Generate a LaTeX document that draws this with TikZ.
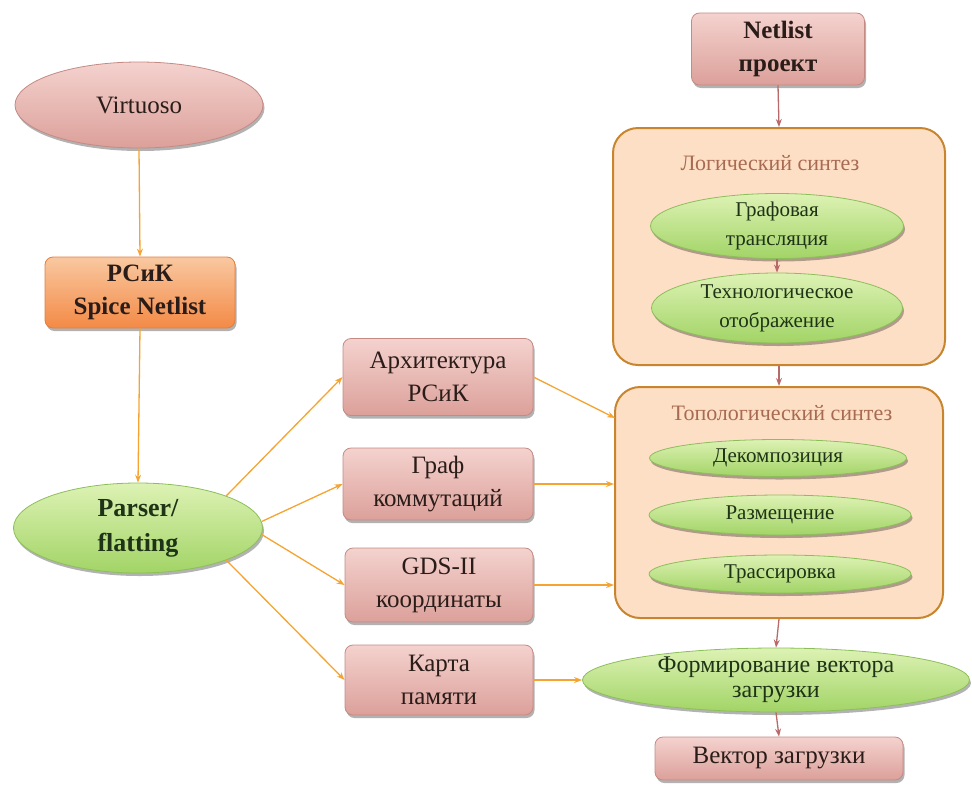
\documentclass[tikz,border=0pt]{standalone}
\usepackage{fontspec}
\setmainfont{Liberation Serif}
\usetikzlibrary{shapes.geometric,arrows.meta,shadows}
\definecolor{pinkT}{HTML}{F4D2CE}
\definecolor{pinkB}{HTML}{DCA09A}
\definecolor{pinkD}{HTML}{C48A84}
\definecolor{orT}{HTML}{F9C8A0}
\definecolor{orB}{HTML}{F38A46}
\definecolor{orD}{HTML}{E08040}
\definecolor{grT}{HTML}{DDF2B4}
\definecolor{grB}{HTML}{A2D466}
\definecolor{grD}{HTML}{8CBF5A}
\definecolor{peach}{HTML}{FDDFC6}
\definecolor{peachD}{HTML}{C8852E}
\definecolor{arrO}{HTML}{F5A431}
\definecolor{arrR}{HTML}{B86A6A}
\definecolor{txt}{HTML}{2A1C18}
\definecolor{gtxt}{HTML}{1F3316}
\definecolor{ttl}{HTML}{A86A50}
\begin{document}
\begin{tikzpicture}[x=1pt,y=-1pt,
  shd/.style={drop shadow={shadow xshift=1.5pt,shadow yshift=-3pt,opacity=0.3,fill=black}},
  pinkbox/.style={rectangle,rounded corners=8pt,draw=pinkD,line width=0.8pt,top color=pinkT,bottom color=pinkB,shd,align=center,font=\fontsize{25}{33}\selectfont,text=txt,inner sep=0pt},
  orbox/.style={pinkbox,draw=orD,top color=orT,bottom color=orB},
  pinkell/.style={ellipse,draw=pinkD,line width=0.8pt,top color=pinkT,bottom color=pinkB,shd,align=center,font=\fontsize{25}{33}\selectfont,text=txt,inner sep=-8pt},
  grell/.style={ellipse,draw=grD,line width=0.8pt,top color=grT,bottom color=grB,shd,align=center,font=\fontsize{21}{29}\selectfont,text=gtxt,inner sep=-8pt},
  container/.style={rectangle,rounded corners=25pt,draw=peachD,line width=2pt,fill=peach,inner sep=0pt},
  titletext/.style={font=\fontsize{22}{26}\selectfont,text=ttl,inner sep=0pt},
  oarrow/.style={draw=arrO,line width=1.3pt,-{Stealth[length=8pt,width=6pt]}},
  rarrow/.style={draw=arrR,line width=1.3pt,-{Stealth[length=8pt,width=6pt]}}
]
\useasboundingbox (0,0) rectangle (972,785);

% left column
\node[pinkell,minimum width=248pt,minimum height=86pt] (virt) at (139,105) {Virtuoso};
\node[orbox,minimum width=190pt,minimum height=71pt,font=\fontsize{25}{33}\selectfont\bfseries] (pcik) at (140,292.5) {РСиК\\Spice Netlist};
\node[grell,minimum width=249pt,minimum height=90pt,font=\fontsize{26}{35}\selectfont\bfseries] (parser) at (138,528) {Parser/\\flatting};

% middle column
\node[pinkbox,minimum width=190pt,minimum height=77pt] (arch) at (438,377) {Архитектура\\РСиК};
\node[pinkbox,minimum width=190pt,minimum height=72pt] (graph) at (438,484) {Граф\\коммутаций};
\node[pinkbox,minimum width=188pt,minimum height=74pt] (gds) at (439,585) {GDS-II\\координаты};
\node[pinkbox,minimum width=188pt,minimum height=70pt] (karta) at (439,680) {Карта\\памяти};

% right column
\node[pinkbox,minimum width=173pt,minimum height=72pt,font=\fontsize{25}{33}\selectfont\bfseries] (netlist) at (778,49) {Netlist\\проект};
\node[container,minimum width=332pt,minimum height=237pt] (logic) at (779,246.5) {};
\node[titletext] (logtitle) at (770,163) {Логический синтез};
\node[grell,minimum width=253pt,minimum height=65pt] (graf) at (777,226) {Графовая\\трансляция};
\node[grell,minimum width=251pt,minimum height=70pt] (tech) at (777,308) {Технологическое\\отображение};

\node[container,minimum width=328pt,minimum height=231pt] (topo) at (779,502.5) {};
\node[titletext] (toptitle) at (782,413) {Топологический синтез};
\node[grell,minimum width=257pt,minimum height=37pt] (dec) at (778,458) {Декомпозиция};
\node[grell,minimum width=262pt,minimum height=40pt] (raz) at (780,515) {Размещение};
\node[grell,minimum width=262pt,minimum height=38pt] (tras) at (780,574) {Трассировка};

\node[grell,minimum width=387pt,minimum height=64pt,font=\fontsize{24}{25}\selectfont] (form) at (776,680) {Формирование вектора\\загрузки};
\node[pinkbox,minimum width=248pt,minimum height=43pt] (vect) at (779,758.5) {Вектор загрузки};

\coordinate (ta) at (615,418);

% orange connectors
\draw[oarrow] (virt.south) -- (pcik.north);
\draw[oarrow] (pcik.south) -- (parser.north);
\draw[oarrow] (parser.20) -- (arch.west);
\draw[oarrow] (parser.3) -- (graph.west);
\draw[oarrow] (parser.-3) -- (gds.west);
\draw[oarrow] (parser.-20) -- (karta.west);
\draw[oarrow] (arch.east) -- (ta);
\draw[oarrow] (graph.east) -- (graph.east -| topo.west);
\draw[oarrow] (gds.east) -- (gds.east -| topo.west);
\draw[oarrow] (karta.east) -- (form.west);

% red connectors
\draw[rarrow] (netlist.south) -- (logic.north);
\draw[rarrow] (graf.south) -- (tech.north);
\draw[rarrow] (logic.south) -- (topo.north);
\draw[rarrow] (topo.south) -- (form.north);
\draw[rarrow] (form.south) -- (vect.north);
\end{tikzpicture}
\end{document}
